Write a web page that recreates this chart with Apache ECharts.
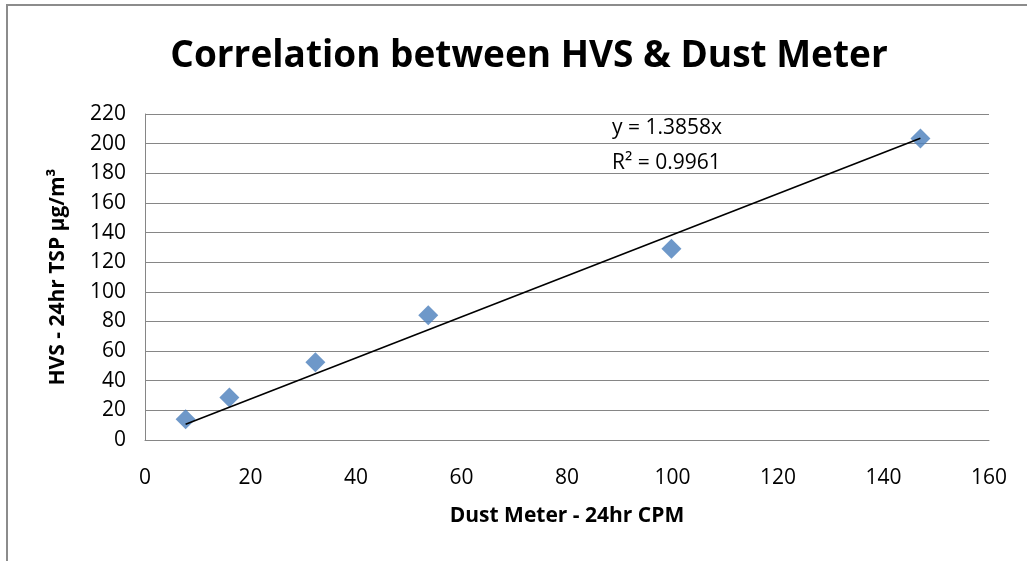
<!DOCTYPE html>
<html>
<head>
<meta charset="utf-8">
<script src="https://cdn.jsdelivr.net/npm/echarts@6/dist/echarts.min.js"></script>
<style>
html,body{margin:0;padding:0;background:#fff;}
#c{width:1027px;height:561px;}
</style>
</head>
<body>
<div id="c"></div>
<script>
// Data
const dustMeterCPM = [7.7, 16.0, 32.3, 53.7, 99.8, 147.0];
const hvsTSP = [14.0, 28.6, 52.5, 84.2, 129.0, 203.4];
const trendX = [7.7, 147.0];
const trendY = [10.7, 203.7];
const xTicks = [0, 20, 40, 60, 80, 100, 120, 140, 160];
const yTicks = [0, 20, 40, 60, 80, 100, 120, 140, 160, 180, 200, 220];
const equationText = 'y = 1.3858x';
const r2Text = 'R² = 0.9961';

const FONT = '"Open Sans", "Noto Sans", sans-serif';
const chart = echarts.init(document.getElementById('c'), null, {renderer: 'canvas'});

const points = dustMeterCPM.map((x, i) => [x, hvsTSP[i]]);
const trend = trendX.map((x, i) => [x, trendY[i]]);

chart.setOption({
  animation: false,
  backgroundColor: '#fff',
  title: {
    text: 'Correlation between HVS & Dust Meter',
    left: 524, top: 33, textAlign: 'center',
    textStyle: {fontFamily: FONT, fontWeight: 'bold', fontSize: 37, color: '#000'}
  },
  graphic: [
    {type: 'rect', shape: {x: 7, y: 5, width: 1100, height: 700}, style: {fill: 'none', stroke: '#8c8c8c', lineWidth: 2}, silent: true, z: 100},
    {type: 'text', left: 612, top: 118, style: {text: equationText, font: '21px ' + FONT, fill: '#000'}},
    {type: 'text', left: 612, top: 153, style: {text: r2Text, font: '21px ' + FONT, fill: '#000'}}
  ],
  grid: {left: 145, right: 38, top: 114, bottom: 121, containLabel: false},
  xAxis: {
    type: 'value', min: xTicks[0], max: xTicks[xTicks.length - 1], interval: 20,
    name: 'Dust Meter - 24hr CPM', nameLocation: 'middle', nameGap: 66,
    nameTextStyle: {fontFamily: FONT, fontWeight: 'bold', fontSize: 21, color: '#000'},
    axisLine: {show: true, lineStyle: {color: '#868686', width: 1}},
    axisTick: {show: false},
    axisLabel: {margin: 28, fontFamily: FONT, fontSize: 21, color: '#000'},
    splitLine: {show: false}
  },
  yAxis: {
    type: 'value', min: yTicks[0], max: yTicks[yTicks.length - 1], interval: 20,
    name: 'HVS - 24hr TSP µg/m³', nameLocation: 'middle', nameGap: 76,
    nameTextStyle: {fontFamily: FONT, fontWeight: 'bold', fontSize: 21, color: '#000'},
    axisLine: {show: true, lineStyle: {color: '#868686', width: 1}},
    axisTick: {show: false},
    axisLabel: {margin: 19, fontFamily: FONT, fontSize: 21, color: '#000'},
    splitLine: {show: true, lineStyle: {color: '#868686', width: 1}}
  },
  series: [
    {
      type: 'line', data: trend, symbol: 'none', silent: true,
      lineStyle: {color: '#000', width: 1.6}, z: 3
    },
    {
      type: 'scatter', data: points, symbol: 'diamond', symbolSize: [20, 20],
      itemStyle: {color: '#4a7ebb'}, z: 2
    }
  ]
});
</script>
</body>
</html>
